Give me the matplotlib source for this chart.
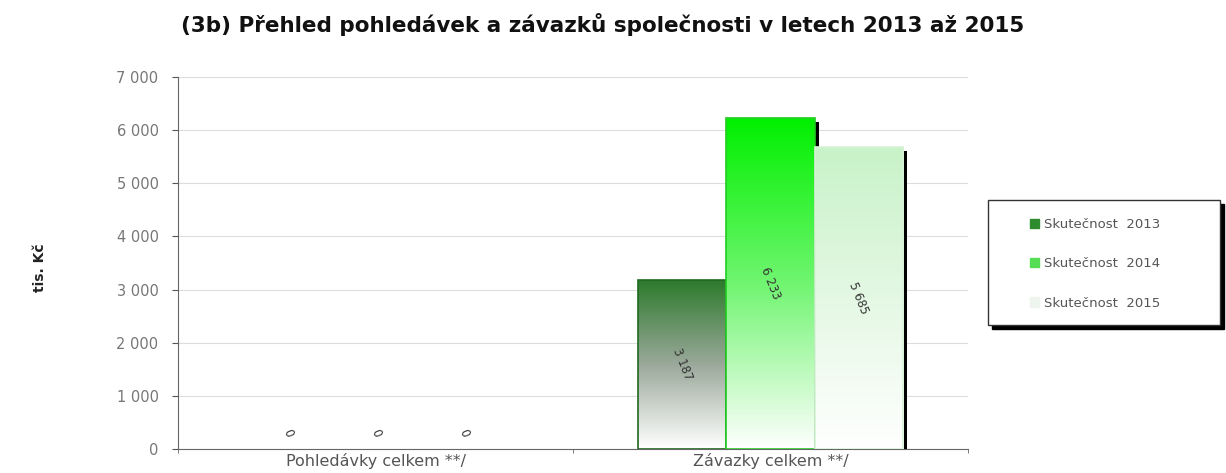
import numpy as np
import matplotlib
matplotlib.use("Agg")
import matplotlib.pyplot as plt
import matplotlib.patheffects as pe
from matplotlib.colors import LinearSegmentedColormap
from matplotlib.patches import Rectangle

plt.rcParams['font.family'] = ['DejaVu Sans']

categories = ['Pohledávky celkem **/', 'Závazky celkem **/']
series = ['Skutečnost  2013', 'Skutečnost  2014', 'Skutečnost  2015']
values_2013 = [0, 3187]
values_2014 = [0, 6233]
values_2015 = [0, 5685]
yticks = [0, 1000, 2000, 3000, 4000, 5000, 6000, 7000]

top_colors = ['#2b7a2b', '#00f000', '#c8f2c8']
mid_colors = ['#9aa89a', '#70f570', '#e4f8e4']
edge_colors = ['#1f6a1f', '#22cc22', '#d8f2d8']
legend_colors = ['#2e8b2e', '#55dd55', '#eef4ee']

fig = plt.figure(figsize=(12.26, 4.73), dpi=100)
ax = fig.add_axes([0.1452, 0.0507, 0.6444, 0.7865])

x = np.arange(len(categories)) + 0.5
width = 0.223
all_vals = [values_2013, values_2014, values_2015]

for i, vals in enumerate(all_vals):
    pos = x + (i - 1) * width
    z = 3 + i * 2
    for p, v in zip(pos, vals):
        if v > 0:
            b = ax.bar(p, v, width, color='white', edgecolor='none', zorder=z,
                       path_effects=[pe.SimplePatchShadow(offset=(3, -3), shadow_rgbFace='black', alpha=1.0),
                                     pe.Normal()])[0]
            cmap = LinearSegmentedColormap.from_list('g%d' % i, ['#ffffff', mid_colors[i], top_colors[i]])
            grad = np.linspace(0, 1, 256).reshape(-1, 1)
            bx, by = b.get_x(), b.get_y()
            bw, bh = b.get_width(), b.get_height()
            im = ax.imshow(grad, cmap=cmap, aspect='auto', origin='lower',
                           extent=[bx, bx + bw, by, by + bh], zorder=z + 0.5)
            im.set_clip_path(b)
            ax.add_patch(Rectangle((bx, by), bw, bh, facecolor='none', edgecolor=edge_colors[i],
                                   linewidth=1.2, zorder=z + 0.7))
        label = '{:,}'.format(v).replace(',', ' ')
        ypos = v / 2 if v > 0 else 300
        ax.text(p, ypos, label, rotation=-68, ha='center', va='center',
                fontsize=8.5, color='#333333', zorder=20)

ax.set_xlim(0, 2)
ax.set_ylim(0, 7000)
ax.set_yticks(yticks)
ax.set_yticklabels(['{:,}'.format(t).replace(',', ' ') for t in yticks], color='#777777', fontsize=10.5)
ax.set_xticks(x)
ax.set_xticklabels(categories, color='#555555', fontsize=11.5)
ax.set_xticks([0, 1, 2], minor=True)
ax.tick_params(axis='x', which='major', length=0, pad=3)
ax.tick_params(axis='x', which='minor', length=3, color='#666666')
ax.tick_params(axis='y', length=4, color='#555555', pad=10)
ax.grid(axis='y', color='#dddddd', linewidth=0.8, zorder=0)
ax.set_axisbelow(True)
for s in ['top', 'right']:
    ax.spines[s].set_visible(False)
ax.spines['left'].set_color('#666666')
ax.spines['bottom'].set_color('#666666')

fig.text(40 / 1226, 1 - 268 / 473, 'tis. Kč', rotation=90, ha='center', va='center',
         fontsize=10, fontweight='bold', color='#222222')
fig.text(603 / 1226, 1 - 25 / 473,
         '(3b) Přehled pohledávek a závazků společnosti v letech 2013 až 2015',
         ha='center', va='center', fontsize=15.5, fontweight='bold', color='#111111')

# legend frame with shadow
fx0, fy0, fw, fh = 988 / 1226, 1 - 325 / 473, 232 / 1226, 125 / 473
fig.patches.append(Rectangle((fx0 + 4 / 1226, fy0 - 4 / 473), fw, fh, transform=fig.transFigure,
                             facecolor='black', edgecolor='black', zorder=1))
fig.patches.append(Rectangle((fx0, fy0), fw, fh, transform=fig.transFigure,
                             facecolor='white', edgecolor='#333333', linewidth=1, zorder=2))
handles = [Rectangle((0, 0), 1, 1, facecolor=c, edgecolor=c) for c in legend_colors]
leg = fig.legend(handles, series, loc='upper left', bbox_to_anchor=(1018 / 1226, 1 - 206 / 473),
                 frameon=False, fontsize=9.5, handlelength=0.7, handleheight=0.7,
                 handletextpad=0.4, labelspacing=2.0, labelcolor='#555555')
leg.set_zorder(5)

fig.savefig('out.png', dpi=100)
